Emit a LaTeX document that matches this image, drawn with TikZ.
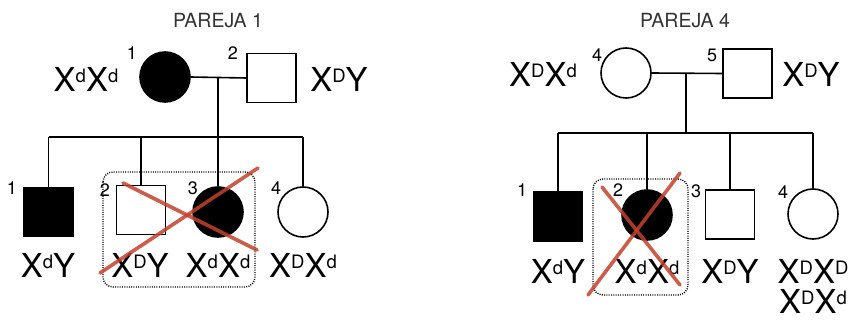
\documentclass[tikz,border=0pt]{standalone}
\usepackage{fontspec}
\setmainfont{TeX Gyre Heros}
\newcommand{\al}[1]{\raisebox{9pt}{\fontsize{18.5}{18}\selectfont #1}}
\definecolor{cruz}{RGB}{196,64,44}
\tikzset{
  person/.style={draw, line width=1.6pt, inner sep=0pt},
  female/.style={person, circle, minimum size=50pt},
  male/.style={person, rectangle, minimum size=49pt},
  aff/.style={fill=black},
  num/.style={font=\fontsize{18}{18}\selectfont, inner sep=0pt},
  geno/.style={font=\fontsize{33}{36}\selectfont, anchor=base, inner sep=0pt},
  titulo/.style={font=\fontsize{19.5}{19}\selectfont, text=black!80},
  linea/.style={line width=1.6pt},
  grupo/.style={line width=1.4pt, dash pattern=on 1pt off 1.3pt, rounded corners=10pt},
  tacha/.style={line width=3.6pt, draw=cruz, opacity=0.85, line cap=round},
}

\begin{document}
\begin{tikzpicture}[x=1pt, y=-1pt]
\useasboundingbox (0,0) rectangle (850,320);

% pareja 1
\node[titulo] (t1) at (218,21) {PAREJA 1};
\node[female, aff] (p1a) at (165,77) {};
\node[male] (p1b) at (271.5,78) {};
\node[num] (n1a) at (132,53) {1};
\node[num] (n1b) at (233,53) {2};
\node[geno] (g1a) at (86,92) {X\al{d}X\al{d}};
\node[geno] (g1b) at (339,92) {X\al{D}Y};

\node[male, aff] (h11) at (48.5,212) {};
\node[male] (h12) at (141,210) {};
\node[female, aff] (h13) at (218,212) {};
\node[female] (h14) at (303,212) {};
\node[num] (m11) at (12,188) {1};
\node[num] (m12) at (105,190) {2};
\node[num] (m13) at (193,188) {3};
\node[num] (m14) at (276,188) {4};
\node[geno] (k11) at (48,277) {X\al{d}Y};
\node[geno] (k12) at (140,277) {X\al{D}Y};
\node[geno] (k13) at (218,277) {X\al{d}X\al{d}};
\node[geno] (k14) at (303,277) {X\al{D}X\al{d}};

\coordinate (u1) at (218,77);
\coordinate (s1) at (218,137);
\draw[linea] (p1a.east) -- (p1b.west);
\draw[linea] (u1) -- (s1);
\draw[linea] (h11 |- s1) -- (h14 |- s1);
\foreach \h in {h11,h12,h13,h14}
  \draw[linea] (\h |- s1) -- (\h.north);

\draw[grupo] (103,172) rectangle (255,287);
\draw[tacha] (123,183) -- (257,250);
\draw[tacha] (100,273) -- (258,168);

% pareja 4
\node[titulo] (t4) at (685,21) {PAREJA 4};
\node[female] (p4a) at (626,73) {};
\node[male] (p4b) at (747.5,73.5) {};
\node[num] (n4a) at (597,55) {4};
\node[num] (n4b) at (712,55) {5};
\node[geno] (g4a) at (543,87) {X\al{D}X\al{d}};
\node[geno] (g4b) at (811,87) {X\al{D}Y};

\node[male, aff] (h41) at (558,216.5) {};
\node[female, aff] (h42) at (647,215) {};
\node[male] (h43) at (730,214.5) {};
\node[female] (h44) at (813,214) {};
\node[num] (m41) at (522,190) {1};
\node[num] (m42) at (618,190) {2};
\node[num] (m43) at (696,191) {3};
\node[num] (m44) at (783,192) {4};
\node[geno] (k41) at (558,283) {X\al{d}Y};
\node[geno] (k42) at (647,283) {X\al{d}X\al{d}};
\node[geno] (k43) at (730,283) {X\al{D}Y};
\node[geno] (k44) at (813,283) {X\al{D}X\al{D}};
\node[geno] (k45) at (813,313) {X\al{D}X\al{d}};

\coordinate (u4) at (686,73);
\coordinate (s4) at (686,133);
\draw[linea] (p4a.east) -- (p4b.west);
\draw[linea] (u4) -- (s4);
\draw[linea] (h41 |- s4) -- (h44 |- s4);
\foreach \h in {h41,h42,h43,h44}
  \draw[linea] (\h |- s4) -- (\h.north);

\draw[grupo] (593,179) rectangle (688,295);
\draw[tacha] (602,187) -- (680,285);
\draw[tacha] (588,295) -- (680,173);
\end{tikzpicture}
\end{document}
